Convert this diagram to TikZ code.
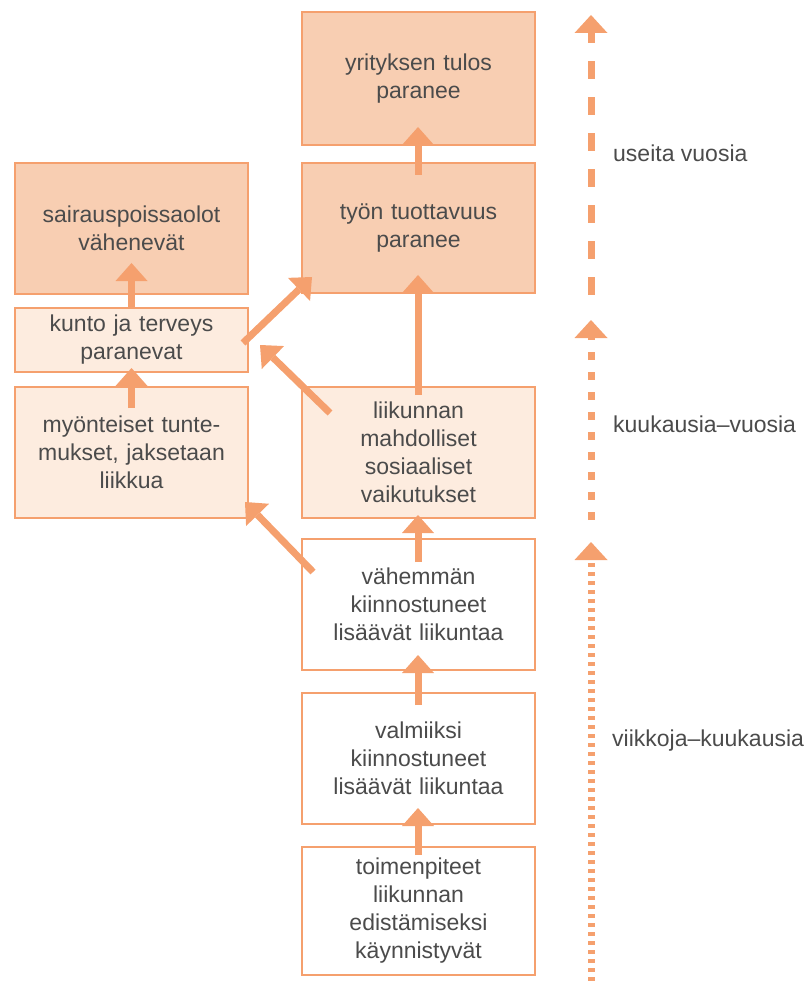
\documentclass[tikz,border=0pt]{standalone}
\usepackage{fontspec}
\setmainfont{Liberation Sans}
\usetikzlibrary{arrows.meta}
\definecolor{orng}{RGB}{245,160,110}
\definecolor{darkfill}{RGB}{248,206,178}
\definecolor{lightfill}{RGB}{253,236,223}
\definecolor{txt}{RGB}{75,75,75}
\begin{document}
\begin{tikzpicture}[x=1pt,y=-1pt,
  box/.style={draw=orng, line width=2.5pt, minimum width=233pt, text width=225pt,
    align=center, inner sep=0pt, outer sep=0pt, text=txt,
    font=\fontsize{23}{28}\selectfont},
  dark/.style={box, fill=darkfill},
  light/.style={box, fill=lightfill},
  plain/.style={box, fill=white},
  arr/.style={draw=orng, line width=7pt,
    -{Triangle[width=32pt,length=18pt,line width=0pt]}},
  tl/.style={draw=orng, line width=7pt,
    -{Triangle[width=33pt,length=18pt,line width=0pt]}},
  lbl/.style={anchor=base west, inner sep=0pt, text=txt,
    font=\fontsize{23}{28}\selectfont}]
\useasboundingbox (0,0) rectangle (808,981);

% right column
\node[dark,  minimum height=133pt] (yr)   at (418.5,78.5) {yrityksen tulos\\paranee};
\node[dark,  minimum height=130pt] (tyon) at (418.5,228)  {työn tuottavuus\\paranee};
\node[light, minimum height=131pt] (liik) at (418.5,452.5) {liikunnan\\mahdolliset\\sosiaaliset\\vaikutukset};
\node[plain, minimum height=131pt] (vah)  at (418.5,604.5) {vähemmän\\kiinnostuneet\\lisäävät liikuntaa};
\node[plain, minimum height=131pt] (valm) at (418.5,758.5) {valmiiksi\\kiinnostuneet\\lisäävät liikuntaa};
\node[plain, minimum height=128pt] (toim) at (418.5,911)  {toimenpiteet\\liikunnan\\edistämiseksi\\käynnistyvät};

% left column
\node[dark,  minimum height=131pt] (sair)  at (131.5,228.5) {sairauspoissaolot\\vähenevät};
\node[light, minimum height=64pt]  (kunto) at (131.5,340)   {kunto ja terveys\\paranevat};
\node[light, minimum height=131pt] (myon)  at (131.5,452.5) {myönteiset tunte-\\mukset, jaksetaan\\liikkua};

% vertical arrows
\draw[arr] (kunto.north) -- ([yshift=31pt]sair.south);
\draw[arr] ([yshift=-21pt]myon.north) -- ([yshift=4pt]kunto.south);
\draw[arr] ([xshift=-0.5pt,yshift=-12pt]tyon.north) -- ([xshift=-0.5pt,yshift=18pt]yr.south);
\draw[arr] ([xshift=-0.5pt,yshift=-8pt]liik.north) -- ([xshift=-0.5pt,yshift=18pt]tyon.south);
\draw[arr] ([xshift=-0.5pt,yshift=-23pt]vah.north) -- ([xshift=-0.5pt,yshift=3pt]liik.south);
\draw[arr] ([xshift=-0.5pt,yshift=-12pt]valm.north) -- ([xshift=-0.5pt,yshift=15pt]vah.south);
\draw[arr] ([xshift=-0.5pt,yshift=-8pt]toim.north) -- ([xshift=-0.5pt,yshift=16pt]valm.south);

% diagonal arrows
\draw[arr] ([xshift=-5pt,yshift=-3pt]kunto.east) -- ([xshift=10pt,yshift=16pt]tyon.south west);
\draw[arr] ([xshift=28pt,yshift=-26pt]liik.north west) -- ([xshift=12pt,yshift=-5pt]kunto.east);
\draw[arr] ([xshift=11pt,yshift=-33pt]vah.north west) -- ([xshift=-3pt,yshift=16pt]myon.south east);

% time line
\coordinate (t1a) at (591,295);
\coordinate (t1b) at (591,15);
\coordinate (t2a) at (591,520);
\coordinate (t2b) at (591,320);
\coordinate (t3a) at (591,981);
\coordinate (t3b) at (591,542);
\draw[tl, dash pattern=on 18pt off 18pt] (t1a) -- (t1b);
\draw[tl, dash pattern=on 8pt off 12pt] (t2a) -- (t2b);
\draw[tl, dash pattern=on 4pt off 5pt] (t3a) -- (t3b);

\node[lbl] (l1) at (613,162) {useita vuosia};
\node[lbl] (l2) at (613,432) {kuukausia–vuosia};
\node[lbl] (l3) at (612,746) {viikkoja–kuukausia};
\end{tikzpicture}
\end{document}
